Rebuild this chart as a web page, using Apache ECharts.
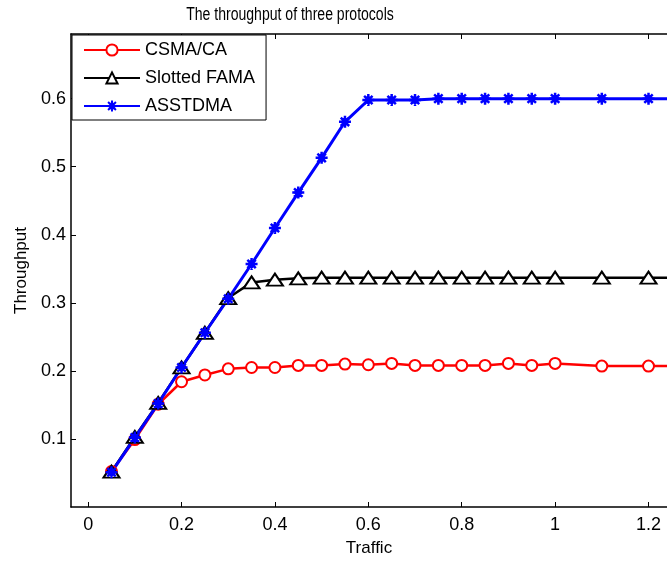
<!DOCTYPE html>
<html>
<head>
<meta charset="utf-8">
<script src="https://cdn.jsdelivr.net/npm/echarts@6/dist/echarts.min.js"></script>
<style>
html,body{margin:0;padding:0;background:#fff;}
#chart{width:667px;height:562px;}
</style>
</head>
<body>
<div id="chart"></div>
<script>
// ---- data ----
const traffic = [0.05,0.1,0.15,0.2,0.25,0.3,0.35,0.4,0.45,0.5,0.55,0.6,0.65,0.7,0.75,0.8,0.85,0.9,0.95,1.0,1.1,1.2,1.3];
const csma    = [0.052,0.099,0.151,0.184,0.194,0.203,0.205,0.205,0.208,0.208,0.210,0.209,0.211,0.208,0.208,0.208,0.208,0.211,0.208,0.211,0.207,0.207,0.207];
const fama    = [0.052,0.103,0.153,0.205,0.256,0.307,0.330,0.334,0.336,0.337,0.337,0.337,0.337,0.337,0.337,0.337,0.337,0.337,0.337,0.337,0.337,0.337,0.337];
const asstdma = [0.051,0.102,0.152,0.205,0.256,0.306,0.357,0.410,0.462,0.513,0.566,0.598,0.598,0.598,0.600,0.600,0.600,0.600,0.600,0.600,0.600,0.600,0.600];
const seriesNames = ['CSMA/CA','Slotted FAMA','ASSTDMA'];
const xTicks = [0,0.2,0.4,0.6,0.8,1.0,1.2];
const yTicks = [0.1,0.2,0.3,0.4,0.5,0.6];
const titleText = 'The throughput of three protocols';
const xName = 'Traffic';
const yName = 'Throughput';

const pair = (xs, ys) => xs.map((x, i) => [x, ys[i]]);
const fmt = v => String(+(+v).toFixed(1));
const FONT = '"Liberation Sans", Arial, sans-serif';
const starPath = 'path://M0,-6L0,6M-6,0L6,0M-4.2,-4.2L4.2,4.2M-4.2,4.2L4.2,-4.2M0,-3.5L3.5,0L0,3.5L-3.5,0Z';

const chart = echarts.init(document.getElementById('chart'), null, {renderer: 'canvas'});
const axisLineStyle = {color: '#000', width: 1.5};

chart.setOption({
  animation: false,
  backgroundColor: '#fff',
  graphic: [{
    type: 'text', x: 290, y: 15, scaleX: 0.78, z: 10,
    style: {
      text: titleText, fill: '#000',
      font: '18px "Liberation Sans", Arial, sans-serif',
      textAlign: 'center', textVerticalAlign: 'middle'
    }
  }],
  legend: {
    orient: 'vertical',
    left: 72, top: 35,
    padding: [6, 11, 5, 11],
    itemWidth: 56, itemHeight: 14, itemGap: 10,
    backgroundColor: '#fff',
    borderColor: '#000', borderWidth: 1, borderRadius: 0,
    textStyle: {fontFamily: FONT, fontSize: 18, color: '#000'},
    data: seriesNames
  },
  grid: {left: 71, top: 34, bottom: 50, right: -6, containLabel: false},
  xAxis: [{
    type: 'value', min: -0.0367, max: 1.2396,
    name: xName, nameLocation: 'middle', nameGap: 33,
    nameTextStyle: {fontFamily: FONT, fontSize: 17, color: '#000'},
    axisLine: {show: true, onZero: false, lineStyle: axisLineStyle},
    axisTick: {show: true, inside: true, length: 5, customValues: xTicks, lineStyle: {color: '#000', width: 1}},
    axisLabel: {show: true, customValues: xTicks, margin: 9, formatter: fmt, fontFamily: FONT, fontSize: 18, color: '#000'},
    splitLine: {show: false}
  }, {
    type: 'value', position: 'top', min: -0.0367, max: 1.2396,
    axisLine: {show: true, onZero: false, lineStyle: axisLineStyle},
    axisTick: {show: true, inside: true, length: 5, customValues: xTicks, lineStyle: {color: '#000', width: 1}},
    axisLabel: {show: false},
    splitLine: {show: false}
  }],
  yAxis: {
    type: 'value', min: 0, max: 0.695,
    name: yName, nameLocation: 'middle', nameGap: 41, nameRotate: 90,
    nameTextStyle: {fontFamily: FONT, fontSize: 17, color: '#000'},
    axisLine: {show: true, onZero: false, lineStyle: axisLineStyle},
    axisTick: {show: true, inside: true, length: 5, customValues: yTicks, lineStyle: {color: '#000', width: 1}},
    axisLabel: {show: true, customValues: yTicks, margin: 5, formatter: fmt, fontFamily: FONT, fontSize: 18, color: '#000'},
    splitLine: {show: false}
  },
  series: [{
    name: seriesNames[0], type: 'line', data: pair(traffic, csma),
    xAxisIndex: 0, clip: true,
    symbol: 'emptyCircle', symbolSize: 11, showAllSymbol: true,
    lineStyle: {color: '#ff0000', width: 2.5},
    itemStyle: {color: '#ff0000', borderColor: '#ff0000', borderWidth: 2.5}
  }, {
    name: seriesNames[1], type: 'line', data: pair(traffic, fama),
    xAxisIndex: 0, clip: true,
    symbol: 'emptyTriangle', symbolSize: [16, 12], showAllSymbol: true,
    lineStyle: {color: '#000000', width: 2.5},
    itemStyle: {color: '#000000', borderColor: '#000000', borderWidth: 2.5}
  }, {
    name: seriesNames[2], type: 'line', data: pair(traffic, asstdma),
    xAxisIndex: 0, clip: true,
    symbol: starPath, symbolSize: 12, showAllSymbol: true,
    lineStyle: {color: '#0000ff', width: 3},
    itemStyle: {color: '#0000ff', borderColor: '#0000ff', borderWidth: 2.5}
  }]
});
</script>
</body>
</html>
